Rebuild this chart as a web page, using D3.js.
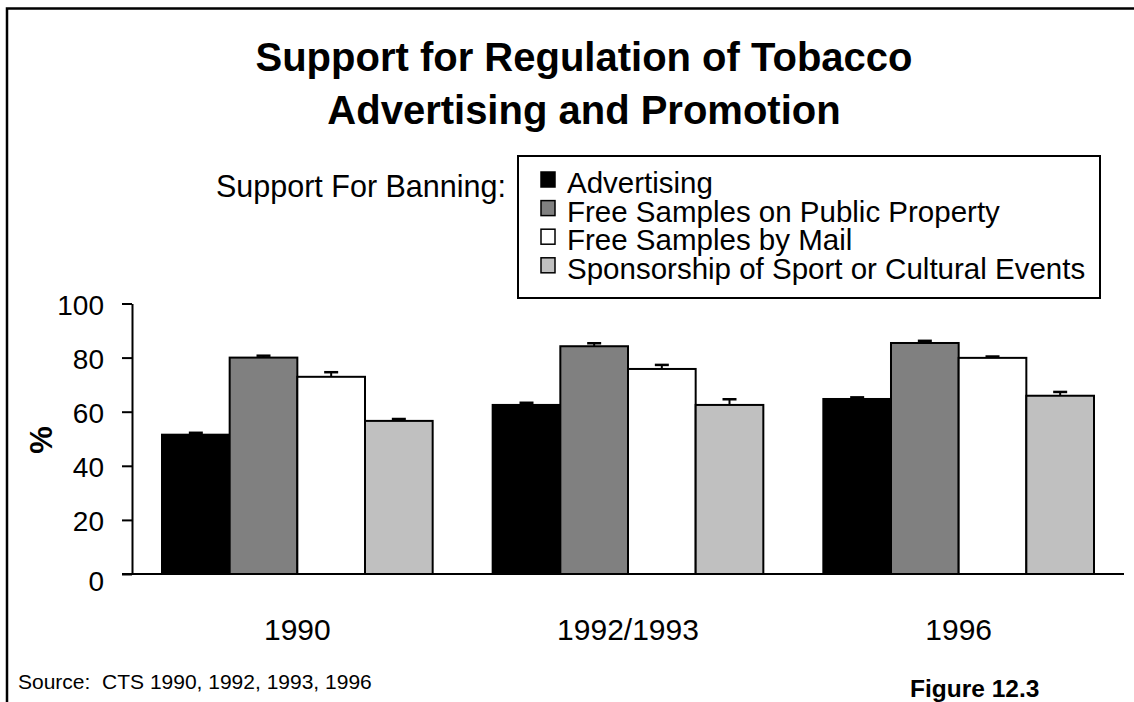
<!DOCTYPE html>
<html>
<head>
<meta charset="utf-8">
<script src="https://cdn.jsdelivr.net/npm/d3@7"></script>
<style>
  html, body { margin: 0; padding: 0; background: #fff; }
  svg { display: block; font-family: "Liberation Sans", Arial, sans-serif; }
  text { white-space: pre; }
</style>
</head>
<body>
<svg id="chart" width="1134" height="702"></svg>
<script>
// Data
const years = ["1990", "1992/1993", "1996"];
const measures = [
  "Advertising",
  "Free Samples on Public Property",
  "Free Samples by Mail",
  "Sponsorship of Sport or Cultural Events"
];
const fills = ["#000000", "#808080", "#ffffff", "#c0c0c0"];
// % support, one row per year, columns follow `measures`
const support = [
  [51.5, 80.0, 72.9, 56.6],
  [62.5, 84.2, 75.8, 62.5],
  [64.7, 85.4, 79.9, 65.9]
];
// upper end of the error bar
const upper = [
  [52.2, 80.7, 74.6, 57.3],
  [63.3, 85.3, 77.3, 64.6],
  [65.3, 86.2, 80.4, 67.3]
];
const yTicks = [0, 20, 40, 60, 80, 100];

const W = 1134, H = 702;
const svg = d3.select("#chart");

// Outer frame (top and left edges visible)
svg.append("path")
  .attr("d", `M7,${H} L7,8.5 L${W},8.5`)
  .attr("fill", "none").attr("stroke", "#000").attr("stroke-width", 2.5);

// Title
svg.append("text").attr("x", 584).attr("y", 71)
  .attr("text-anchor", "middle").attr("font-weight", "bold").attr("font-size", 40)
  .text("Support for Regulation of Tobacco");
svg.append("text").attr("x", 584).attr("y", 124)
  .attr("text-anchor", "middle").attr("font-weight", "bold").attr("font-size", 40)
  .text("Advertising and Promotion");

// Scales
const plotL = 132, plotR = 1124, y0 = 574, y100 = 303.5;
const x = d3.scaleBand().domain(years).range([plotL, plotR]).padding(0);
const xi = d3.scaleBand().domain(d3.range(measures.length))
  .range([30, x.bandwidth() - 30]).padding(0);
const y = d3.scaleLinear().domain([0, 100]).range([y0, y100]);

// Bars
const groups = svg.append("g").selectAll("g")
  .data(years).enter().append("g")
  .attr("transform", d => `translate(${x(d)},0)`);

groups.selectAll("rect")
  .data((d, i) => support[i].map((v, j) => ({ v, j, hi: upper[i][j] })))
  .enter().append("rect")
  .attr("x", d => xi(d.j))
  .attr("y", d => y(d.v))
  .attr("width", xi.bandwidth())
  .attr("height", d => y0 - y(d.v))
  .attr("fill", d => fills[d.j])
  .attr("stroke", "#000").attr("stroke-width", 2);

// Error bars (upper only)
const err = groups.selectAll("g.err")
  .data((d, i) => support[i].map((v, j) => ({ v, j, hi: upper[i][j] })))
  .enter().append("g").attr("class", "err");
err.append("line")
  .attr("x1", d => xi(d.j) + xi.bandwidth() / 2)
  .attr("x2", d => xi(d.j) + xi.bandwidth() / 2)
  .attr("y1", d => y(d.v)).attr("y2", d => y(d.hi))
  .attr("stroke", "#000").attr("stroke-width", 2);
err.append("line")
  .attr("x1", d => xi(d.j) + xi.bandwidth() / 2 - 7)
  .attr("x2", d => xi(d.j) + xi.bandwidth() / 2 + 7)
  .attr("y1", d => y(d.hi)).attr("y2", d => y(d.hi))
  .attr("stroke", "#000").attr("stroke-width", 2.5);

// Y axis
const yAxis = svg.append("g")
  .attr("transform", `translate(${plotL},0)`)
  .call(d3.axisLeft(y).tickValues(yTicks).tickSize(10).tickSizeOuter(0).tickPadding(18));
yAxis.select(".domain").attr("stroke-width", 2);
yAxis.selectAll(".tick line").attr("stroke-width", 2);
yAxis.selectAll(".tick text")
  .attr("font-size", 28).attr("font-family", "Liberation Sans, Arial, sans-serif")
  .attr("fill", "#000")
  .attr("dy", d => d === 0 ? "0.6em" : "0.38em");

// X axis (baseline only, labels below)
svg.append("line")
  .attr("x1", plotL - 10).attr("x2", plotR)
  .attr("y1", y0).attr("y2", y0)
  .attr("stroke", "#000").attr("stroke-width", 2);
svg.append("g").selectAll("text")
  .data(years).enter().append("text")
  .attr("x", d => x(d) + x.bandwidth() / 2)
  .attr("y", 640)
  .attr("text-anchor", "middle").attr("font-size", 30)
  .text(d => d);

// Y label
svg.append("text")
  .attr("transform", "translate(52,440) rotate(-90)")
  .attr("text-anchor", "middle").attr("font-weight", "bold").attr("font-size", 31)
  .text("%");

// Legend
svg.append("text").attr("x", 216).attr("y", 197).attr("font-size", 30.5)
  .text("Support For Banning:");
svg.append("rect").attr("x", 518).attr("y", 156).attr("width", 582).attr("height", 142)
  .attr("fill", "#fff").attr("stroke", "#000").attr("stroke-width", 2);
const leg = svg.append("g").selectAll("g")
  .data(measures).enter().append("g")
  .attr("transform", (d, i) => `translate(541,${193 + i * 28.6})`);
leg.append("rect").attr("x", 0).attr("y", -21).attr("width", 14).attr("height", 15)
  .attr("fill", (d, i) => fills[i]).attr("stroke", "#000").attr("stroke-width", 1.5);
leg.append("text").attr("x", 26).attr("y", 0).attr("font-size", 29.5)
  .text(d => d);

// Footer
svg.append("text").attr("x", 18).attr("y", 689).attr("font-size", 21)
  .text("Source:  CTS 1990, 1992, 1993, 1996");
svg.append("text").attr("x", 910).attr("y", 697).attr("font-size", 24.5)
  .attr("font-weight", "bold").text("Figure 12.3");
</script>
</body>
</html>
